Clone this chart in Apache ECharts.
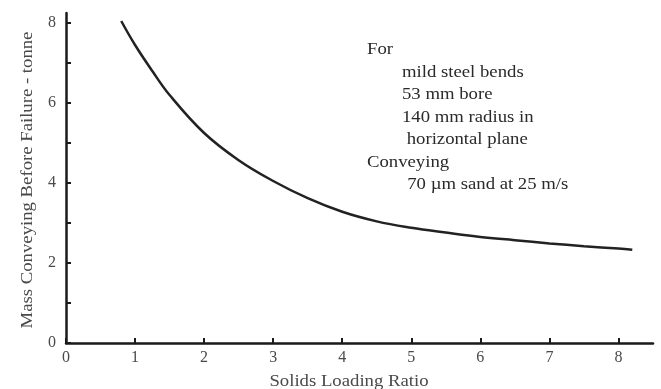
<!DOCTYPE html>
<html>
<head>
<meta charset="utf-8">
<script src="https://cdn.jsdelivr.net/npm/echarts@6/dist/echarts.min.js"></script>
<style>
  html, body { margin: 0; padding: 0; background: #fff; }
  #chart { width: 661px; height: 389px; }
</style>
</head>
<body>
<div id="chart"></div>
<script>
"use strict";

// Solids loading ratio vs mass conveyed before bend failure
const loadingRatio = [0.8, 1, 1.25, 1.5, 2, 2.5, 3, 3.5, 4, 4.5, 5, 5.5, 6, 6.5, 7, 7.5, 8, 8.2];
const massTonne    = [8.05, 7.45, 6.8, 6.2, 5.25, 4.57, 4.05, 3.62, 3.28, 3.04, 2.88, 2.76, 2.65, 2.57, 2.49, 2.42, 2.36, 2.33];

const xName = "Solids Loading Ratio";
const yName = "Mass Conveying Before Failure - tonne";
const noteLines = [
  { text: "For", indent: 0 },
  { text: "mild steel bends", indent: 1 },
  { text: "53 mm bore", indent: 1 },
  { text: "140 mm radius in", indent: 1 },
  { text: " horizontal plane", indent: 1 },
  { text: "Conveying", indent: 0 },
  { text: "70 \u00b5m sand at 25 m/s", indent: 1.15 },
];

const INK = "#1a1a1a", TEXT = "#4a4a4a";
const FONT = "'Liberation Serif', 'DejaVu Serif', serif";
const WIDE = 1.17;   // the original serif face runs wider than Times

const chart = echarts.init(document.getElementById("chart"), null, { renderer: "canvas" });

const axisCommon = {
  axisLine: { show: true, onZero: false, lineStyle: { color: INK, width: 2.5 } },
  axisTick: { show: true, inside: true, length: 5, lineStyle: { color: INK, width: 2 } },
  splitLine: { show: false },
};

chart.setOption({
  animation: false,
  backgroundColor: "#fff",
  grid: { left: 66, right: 8, top: 13, bottom: 46 },
  xAxis: {
    ...axisCommon,
    type: "value",
    min: 0, max: 8.5, interval: 1,
    axisLabel: {
      fontFamily: FONT, fontSize: 16, color: TEXT, margin: 7,
      showMaxLabel: false,
    },
  },
  yAxis: {
    ...axisCommon,
    type: "value",
    min: 0, max: 8.25, interval: 1,
    axisLabel: {
      fontFamily: FONT, fontSize: 16, color: TEXT, margin: 10,
      showMaxLabel: false,
      formatter: (v) => (v % 2 === 0 ? String(v) : ""),
    },
  },
  series: [{
    type: "line",
    data: loadingRatio.map((x, i) => [x, massTonne[i]]),
    smooth: 0.4,
    showSymbol: false,
    lineStyle: { color: "#222", width: 2.5 },
  }],
  graphic: [
    {
      type: "text", x: 349, y: 382, scaleX: WIDE,
      style: { text: xName, font: "16px " + FONT, fill: TEXT, align: "center", verticalAlign: "middle" },
    },
    {
      type: "text", x: 28, y: 180, rotation: Math.PI / 2, scaleX: WIDE,
      style: { text: yName, font: "16px " + FONT, fill: TEXT, align: "center", verticalAlign: "middle" },
    },
    ...noteLines.map((l, i) => ({
      type: "text",
      x: 367 + l.indent * 35,
      y: 50 + i * 22.5,
      scaleX: WIDE,
      style: { text: l.text, font: "16px " + FONT, fill: "#2a2a2a", verticalAlign: "middle" },
    })),
  ],
});
</script>
</body>
</html>
